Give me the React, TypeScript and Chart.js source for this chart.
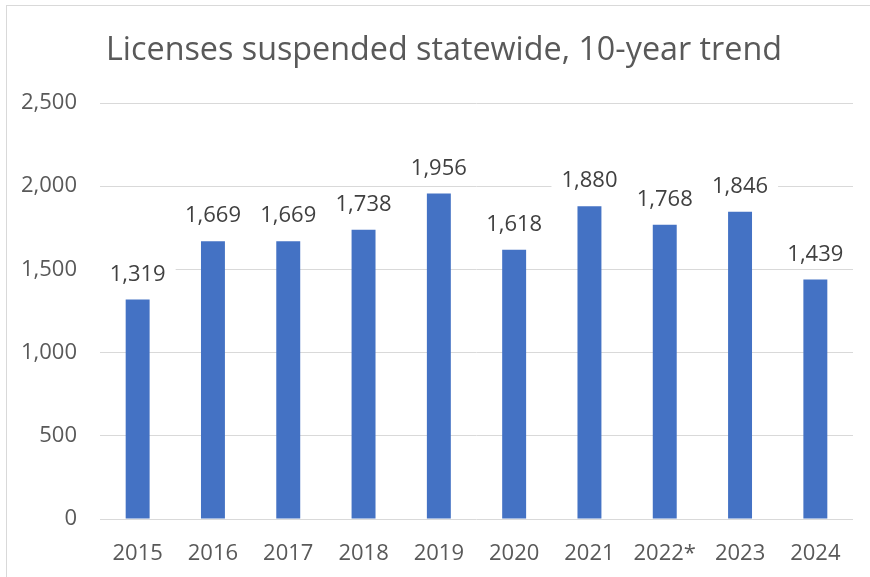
import React, { useEffect, useRef } from "react";
import { Chart, registerables } from "chart.js";

Chart.register(...registerables);

const categories = ["2015", "2016", "2017", "2018", "2019", "2020", "2021", "2022*", "2023", "2024"];
const suspended = [1319, 1669, 1669, 1738, 1956, 1618, 1880, 1768, 1846, 1439];
const yTicks = [0, 500, 1000, 1500, 2000, 2500];
const titleText = "Licenses suspended statewide, 10-year trend";

const FONT = "'Open Sans', sans-serif";

const titlePlugin = {
  id: "customTitle",
  afterDraw(chart: any) {
    const ctx = chart.ctx;
    ctx.save();
    ctx.font = `32.3px ${FONT}`;
    ctx.fillStyle = "#595959";
    ctx.textAlign = "center";
    ctx.textBaseline = "alphabetic";
    ctx.fillText(titleText, 444, 60);
    ctx.restore();
  },
};

const labelPlugin = {
  id: "barLabels",
  afterDatasetsDraw(chart: any) {
    const ctx = chart.ctx;
    const meta = chart.getDatasetMeta(0);
    ctx.save();
    ctx.font = `22px ${FONT}`;
    ctx.textAlign = "center";
    ctx.textBaseline = "alphabetic";
    meta.data.forEach((bar: any, i: number) => {
      const text = suspended[i].toLocaleString("en-US");
      const w = ctx.measureText(text).width;
      const baseline = bar.y - 19;
      ctx.fillStyle = "#ffffff";
      ctx.fillRect(bar.x - w / 2 - 10, baseline - 21, w + 20, 28);
      ctx.fillStyle = "#404040";
      ctx.fillText(text, bar.x, baseline);
    });
    ctx.restore();
  },
};

export default function App() {
  const canvasRef = useRef<HTMLCanvasElement | null>(null);

  useEffect(() => {
    if (!canvasRef.current) return;
    const chart = new Chart(canvasRef.current, {
      type: "bar",
      data: {
        labels: categories,
        datasets: [
          {
            data: suspended,
            backgroundColor: "#4472C4",
            borderWidth: 0,
            categoryPercentage: 1,
            barPercentage: 0.318,
          },
        ],
      },
      options: {
        animation: false,
        responsive: false,
        layout: { padding: { top: 103, left: 0, right: 17, bottom: 0 } },
        plugins: {
          legend: { display: false },
          title: { display: false },
          tooltip: { enabled: false },
        },
        scales: {
          x: {
            grid: { display: false, drawTicks: false },
            border: { display: false },
            ticks: {
              color: "#595959",
              font: { family: FONT, size: 22 },
              padding: 22,
              maxRotation: 0,
              autoSkip: false,
            },
            afterFit(scale: any) {
              scale.height = 58;
            },
          },
          y: {
            min: 0,
            max: 2500,
            afterBuildTicks(scale: any) {
              scale.ticks = yTicks.map((v) => ({ value: v }));
            },
            grid: { color: "#d9d9d9", lineWidth: 1, drawTicks: false },
            border: { display: false },
            ticks: {
              color: "#595959",
              font: { family: FONT, size: 22 },
              padding: 23,
              callback: (v: any) => Number(v).toLocaleString("en-US"),
            },
            afterFit(scale: any) {
              scale.width = 100;
            },
          },
        },
      },
      plugins: [labelPlugin, titlePlugin],
    });
    return () => chart.destroy();
  }, []);

  return (
    <div
      style={{
        position: "fixed",
        left: 0,
        top: 0,
        width: 870,
        height: 577,
        background: "#ffffff",
        overflow: "hidden",
      }}
    >
      <div
        style={{
          position: "absolute",
          left: 6,
          top: 5,
          width: 880,
          height: 600,
          borderTop: "1px solid #d9d9d9",
          borderLeft: "1px solid #d9d9d9",
        }}
      />
      <canvas
        ref={canvasRef}
        width={870}
        height={577}
        style={{ position: "absolute", left: 0, top: 0, display: "block" }}
      />
    </div>
  );
}
